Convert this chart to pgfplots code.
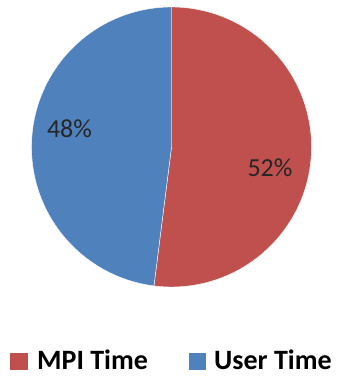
\documentclass[border=0pt]{standalone}
\usepackage{pgfplots}
\pgfplotsset{compat=1.18}
\usepackage{pgfplotstable}
\usepackage{fontspec}
\setmainfont{Carlito}
\definecolor{mpired}{HTML}{C0504D}
\definecolor{userblue}{HTML}{4F81BD}
\pgfplotstableread{
label value
MPI 52
User 48
}\piedata
\pgfplotstablegetelem{0}{value}\of\piedata \let\mpival\pgfplotsretval
\pgfplotstablegetelem{1}{value}\of\piedata \let\userval\pgfplotsretval
\pgfmathsetmacro{\splitang}{90-3.6*\mpival}
\pgfmathsetmacro{\endang}{\splitang-3.6*\userval}
\begin{document}
\begin{tikzpicture}
\begin{axis}[
  width=342bp, height=378bp, scale only axis,
  xmin=0, xmax=342, ymin=0, ymax=378,
  hide axis, clip=false,
]
% center (171.5, 231), radius 140
\addplot[fill=mpired, draw=white, line width=0.4pt, domain=90:\splitang, samples=120, variable=\t]
  ({171.5+140*cos(\t)}, {231+140*sin(\t)}) -- (axis cs:171.5,231) -- cycle;
\addplot[fill=userblue, draw=white, line width=0.4pt, domain=\splitang:\endang, samples=120, variable=\t]
  ({171.5+140*cos(\t)}, {231+140*sin(\t)}) -- (axis cs:171.5,231) -- cycle;
\node[font=\fontsize{26bp}{30bp}\selectfont, text=black!85] at (axis cs:270,210) {\mpival\%};
\node[font=\fontsize{26bp}{30bp}\selectfont, text=black!85] at (axis cs:69.5,249.5) {\userval\%};
% legend
\fill[mpired] (axis cs:10,8) rectangle (axis cs:28,25);
\node[anchor=base west, inner sep=0pt, font=\fontsize{28bp}{32bp}\selectfont\bfseries] at (axis cs:37,8) {MPI Time};
\fill[userblue] (axis cs:189,8) rectangle (axis cs:206,25);
\node[anchor=base west, inner sep=0pt, font=\fontsize{28bp}{32bp}\selectfont\bfseries] at (axis cs:214,8) {User Time};
\end{axis}
\pgfresetboundingbox
\path[use as bounding box] (0,0) rectangle (342bp,378bp);
\end{tikzpicture}
\end{document}
